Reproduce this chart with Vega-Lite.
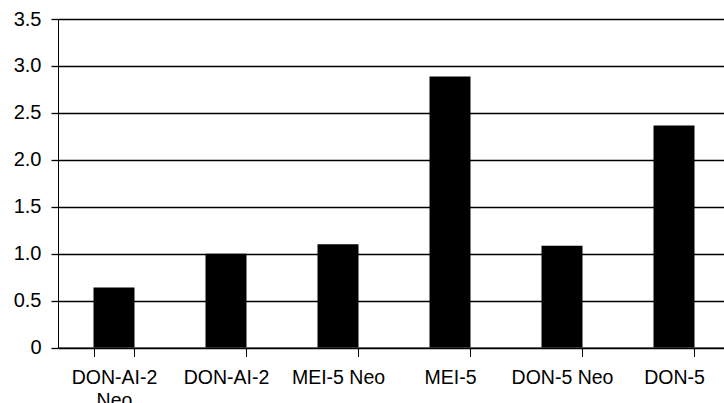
{
  "$schema": "https://vega.github.io/schema/vega-lite/v6.json",
  "width": 666,
  "height": 328.5,
  "autosize": "none",
  "padding": {"left": 58, "top": 19, "right": 0, "bottom": 55.5},
  "background": "white",
  "data": {
    "values": [
      {"sample": "DON-AI-2 Neo", "value": 0.64},
      {"sample": "DON-AI-2", "value": 1.0},
      {"sample": "MEI-5 Neo", "value": 1.1},
      {"sample": "MEI-5", "value": 2.887},
      {"sample": "DON-5 Neo", "value": 1.085},
      {"sample": "DON-5", "value": 2.366}
    ]
  },
  "mark": {"type": "bar", "color": "#000000"},
  "encoding": {
    "x": {
      "field": "sample",
      "type": "nominal",
      "sort": null,
      "scale": {"range": [0, 672], "paddingInner": 0.634, "paddingOuter": 0.317},
      "axis": {
        "title": null,
        "labelAngle": 0,
        "tickBand": "extent",
        "tickSize": 9,
        "tickColor": "#000000",
        "domainColor": "#000000",
        "labelFont": "Liberation Sans",
        "labelFontSize": 19.5,
        "labelColor": "#000000",
        "labelPadding": 12,
        "labelLineHeight": 22.5,
        "labelExpr": "datum.label == 'DON-AI-2 Neo' ? ['DON-AI-2', 'Neo'] : datum.label",
        "labelLimit": 200
      }
    },
    "y": {
      "field": "value",
      "type": "quantitative",
      "scale": {"domain": [0, 3.5], "nice": false},
      "axis": {
        "title": null,
        "values": [0, 0.5, 1, 1.5, 2, 2.5, 3, 3.5],
        "labelExpr": "datum.value == 0 ? '0' : format(datum.value, '.1f')",
        "grid": true,
        "gridColor": "#000000",
        "gridOpacity": 1,
        "gridWidth": 1.3,
        "tickSize": 7,
        "tickWidth": 1.3,
        "tickColor": "#000000",
        "domainColor": "#000000",
        "labelFont": "Liberation Sans",
        "labelFontSize": 20,
        "labelColor": "#000000",
        "labelPadding": 10
      }
    }
  },
  "config": {"view": {"stroke": null}}
}
